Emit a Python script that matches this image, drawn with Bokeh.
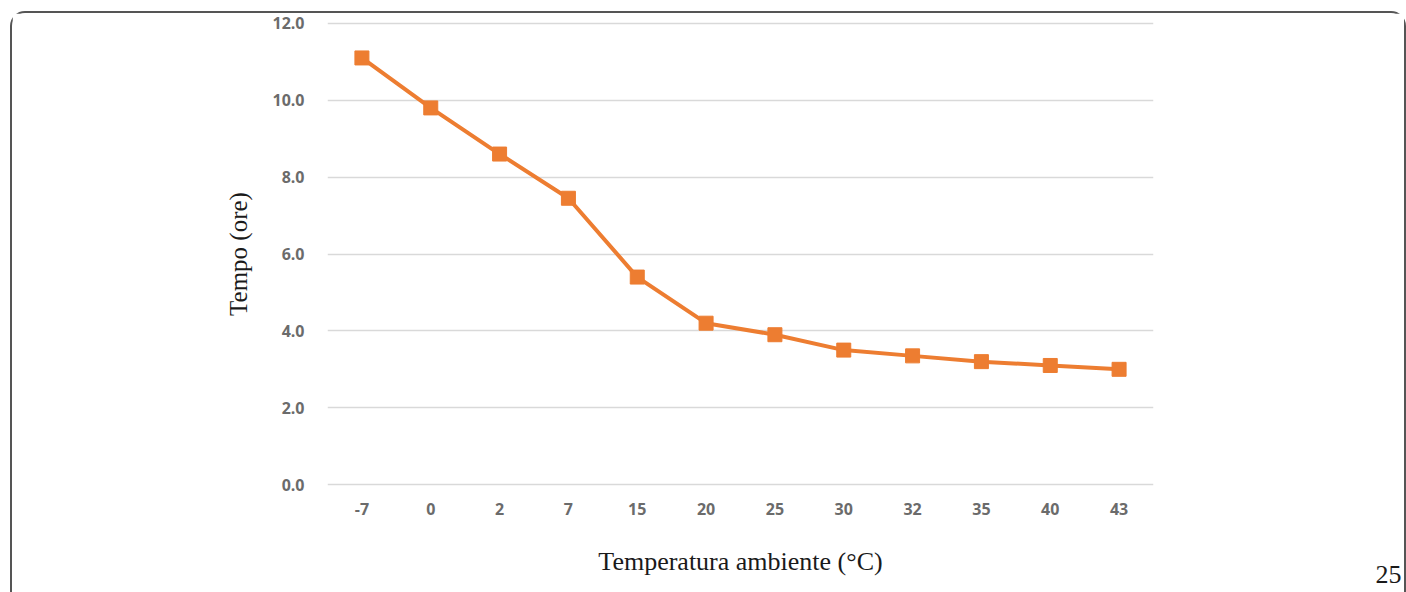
from bokeh.plotting import figure
from bokeh.models import Range1d, FactorRange, Title
from bokeh.embed import file_html
from bokeh.resources import INLINE

temperature = ["-7", "0", "2", "7", "15", "20", "25", "30", "32", "35", "40", "43"]
tempo_ore = [11.1, 9.8, 8.6, 7.45, 5.4, 4.2, 3.9, 3.5, 3.35, 3.2, 3.1, 3.0]
y_ticks = [0, 2, 4, 6, 8, 10, 12]
page_number = "25"

W, H = 1392, 579
p = figure(width=W, height=H, output_backend="svg", toolbar_location=None,
           x_range=FactorRange(factors=temperature, range_padding=0),
           y_range=Range1d(-0.1, 12.1),
           min_border_left=315, min_border_right=251,
           min_border_top=6, min_border_bottom=104)
p.outline_line_color = None
p.background_fill_color = "white"
p.border_fill_color = "white"
p.styles = {"outline": "2px solid #555555", "border-radius": "13px 13px 0 0",
            "margin-left": "12px", "margin-top": "13px"}

orange = "#ED7D31"
p.line(temperature, tempo_ore, line_color=orange, line_width=4)
p.scatter(temperature, tempo_ore, marker="square", size=14, fill_color=orange, line_color=orange)

p.xgrid.grid_line_color = None
p.ygrid.grid_line_color = "#d9d9d9"
p.ygrid.grid_line_width = 1.5
p.yaxis.ticker = y_ticks
p.yaxis.major_label_overrides = {t: f"{t:.1f}" for t in y_ticks}

for ax in (p.xaxis[0], p.yaxis[0]):
    ax.axis_line_color = None
    ax.major_tick_line_color = None
    ax.minor_tick_line_color = None
    ax.major_label_text_font = "Open Sans"
    ax.major_label_text_font_size = "16px"
    ax.major_label_text_font_style = "bold"
    ax.major_label_text_color = "#6b6b6b"
    ax.axis_label_text_font = "Liberation Serif"
    ax.axis_label_text_font_style = "normal"
    ax.axis_label_text_color = "#1a1a1a"

p.xaxis.axis_label = "Temperatura ambiente (°C)"
p.yaxis.axis_label = "Tempo (ore)"
p.xaxis.axis_label_text_font_size = "26px"
p.yaxis.axis_label_text_font_size = "25px"
p.xaxis.major_label_standoff = 8
p.xaxis.axis_label_standoff = 29
p.yaxis.major_label_standoff = 17
p.yaxis.axis_label_standoff = 17

page_title = Title(text=page_number, align="right", vertical_align="top",
                   offset=-248, standoff=-25,
                   text_font="Liberation Serif", text_font_size="26px",
                   text_font_style="normal", text_color="#1a1a1a")
p.add_layout(page_title, "below")

open("out.html", "w").write(file_html(p, INLINE))
